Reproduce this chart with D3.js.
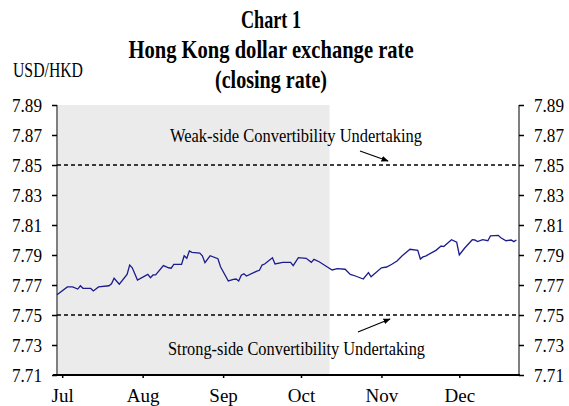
<!DOCTYPE html>
<html lang="en">
  <head>
    <meta charset="UTF-8" />
    <title>Hong Kong dollar exchange rate</title>
    <script src="https://d3js.org/d3.v7.min.js"></script>
    <style>
      body {
        margin: 0;
        background: #fff;
      }
      text {
        font-family: "Liberation Serif", "Times New Roman", serif;
        fill: #000;
      }
    </style>
  </head>
  <body>
    <svg width="569" height="406"></svg>

    <script>
      // closing rate
      var dates = [
        "06-29", "07-03", "07-05", "07-07", "07-08", "07-09", "07-12", "07-13",
        "07-15", "07-19", "07-20", "07-21", "07-23", "07-26", "07-27", "07-28",
        "07-30", "08-03", "08-04", "08-05", "08-06", "08-09", "08-11", "08-12",
        "08-13", "08-16", "08-17", "08-18", "08-19", "08-20", "08-23", "08-24",
        "08-25", "08-27", "08-30", "08-31", "09-03", "09-05", "09-06", "09-07",
        "09-08", "09-09", "09-10", "09-14", "09-15", "09-16", "09-17", "09-20",
        "09-21", "09-24", "09-27", "09-28", "09-30", "10-03", "10-05", "10-06",
        "10-08", "10-11", "10-13", "10-15", "10-18", "10-20", "10-22", "10-25",
        "10-27", "10-28", "11-01", "11-03", "11-05", "11-07", "11-09", "11-12",
        "11-15", "11-16", "11-17", "11-18", "11-22", "11-24", "11-25", "11-28",
        "11-30", "12-01", "12-03", "12-06", "12-07", "12-08", "12-10", "12-12",
        "12-13", "12-16", "12-17", "12-19", "12-21", "12-22", "12-23"
      ];
      var rates = [
        7.7635, 7.7687, 7.7687, 7.7673, 7.7695, 7.7678, 7.7677, 7.766,
        7.7687, 7.7695, 7.7708, 7.7745, 7.7705, 7.7771, 7.7833, 7.7815,
        7.7733, 7.7771, 7.7749, 7.7767, 7.7767, 7.7829, 7.7815, 7.7812,
        7.7838, 7.7838, 7.7895, 7.7878, 7.7927, 7.7918, 7.7913, 7.7895,
        7.7849, 7.7895, 7.7875, 7.7822, 7.7727, 7.7738, 7.774, 7.7727,
        7.7765, 7.7775, 7.776, 7.7793, 7.7798, 7.7833, 7.784, 7.7882,
        7.784, 7.7851, 7.7851, 7.7829, 7.7882, 7.7878, 7.7851, 7.7871,
        7.7855, 7.7822, 7.78, 7.7809, 7.7805, 7.7771, 7.776, 7.774,
        7.7782, 7.7755, 7.7815, 7.782, 7.7838, 7.786, 7.7895, 7.7938,
        7.7931, 7.7873, 7.7887, 7.7893, 7.7931, 7.796, 7.7956, 7.8002,
        7.7985, 7.79, 7.7945, 7.8002, 7.8, 7.7989, 7.8002, 7.7995,
        7.8027, 7.8031, 7.8015, 7.7995, 7.8, 7.7989, 7.8
      ];
      var yTicks = [7.71, 7.73, 7.75, 7.77, 7.79, 7.81, 7.83, 7.85, 7.87, 7.89];
      var monthTicks = ["07-01", "08-01", "09-01", "10-01", "11-01", "12-01"];
      var xDomain = ["06-29", "12-24"];
      var shadeEnd = "10-12";
      var weakSide = 7.85;
      var strongSide = 7.75;
      var titleLines = ["Chart 1", "Hong Kong dollar exchange rate", "(closing rate)"];

      var parse = function (s) {
        return d3.timeParse("%Y-%m-%d")("2010-" + s);
      };

      var svg = d3.select("svg");
      var plotLeft = 57,
        plotRight = 519,
        plotTop = 105,
        plotBottom = 375;

      var x = d3.scaleTime().domain(xDomain.map(parse)).range([plotLeft, plotRight]);
      var y = d3.scaleLinear().domain([7.71, 7.89]).range([plotBottom, plotTop]);

      // shaded period
      svg
        .append("rect")
        .attr("x", x(parse(xDomain[0])))
        .attr("y", y(7.89))
        .attr("width", x(parse(shadeEnd)) - x(parse(xDomain[0])))
        .attr("height", y(7.71) - y(7.89))
        .attr("fill", "#ebebeb");

      // title
      var titleWidths = [60, 285, 112];
      svg
        .selectAll(".title")
        .data(titleLines)
        .enter()
        .append("text")
        .attr("class", "title")
        .attr("x", 271)
        .attr("y", function (d, i) {
          return 28 + i * 30;
        })
        .attr("text-anchor", "middle")
        .attr("font-weight", "bold")
        .attr("font-size", 26)
        .attr("textLength", function (d, i) {
          return titleWidths[i];
        })
        .attr("lengthAdjust", "spacingAndGlyphs")
        .text(function (d) {
          return d;
        });

      svg
        .append("text")
        .attr("x", 13)
        .attr("y", 77)
        .attr("font-size", 20)
        .attr("textLength", 70)
        .attr("lengthAdjust", "spacingAndGlyphs")
        .text("USD/HKD");

      // axes
      var yLeft = d3.axisLeft(y).tickValues(yTicks).tickFormat(d3.format(".2f")).tickSize(5).tickPadding(10);
      var yRight = d3.axisRight(y).tickValues(yTicks).tickFormat(d3.format(".2f")).tickSize(5).tickPadding(10);
      var xAxis = d3
        .axisBottom(x)
        .tickValues(monthTicks.map(parse))
        .tickFormat(d3.timeFormat("%b"))
        .tickSize(3)
        .tickPadding(11);

      var gl = svg.append("g").attr("transform", "translate(" + plotLeft + ",0)").call(yLeft);
      var gr = svg.append("g").attr("transform", "translate(" + plotRight + ",0)").call(yRight);
      var gx = svg.append("g").attr("transform", "translate(0," + plotBottom + ")").call(xAxis);

      [gl, gr, gx].forEach(function (g) {
        g.selectAll("text")
          .attr("font-family", "Liberation Serif, Times New Roman, serif")
          .attr("font-size", 19)
          .attr("fill", "#000");
        g.selectAll(".tick line").attr("stroke", "#000").attr("stroke-width", 1.5);
      });
      [gl, gr].forEach(function (g) {
        g.selectAll("text").attr("textLength", 30).attr("lengthAdjust", "spacingAndGlyphs");
      });
      gl.select(".domain").attr("stroke", "#7f7f7f").attr("stroke-width", 2).attr("d", "M0," + plotTop + "V" + plotBottom);
      gr.select(".domain").attr("stroke", "#7f7f7f").attr("stroke-width", 2).attr("d", "M0," + plotTop + "V" + plotBottom);
      gx.select(".domain")
        .attr("stroke", "#000")
        .attr("stroke-width", 2)
        .attr("d", "M" + (plotLeft - 4) + ",0H" + (plotRight + 1));

      // undertaking lines
      svg
        .selectAll(".cu")
        .data([weakSide, strongSide])
        .enter()
        .append("line")
        .attr("class", "cu")
        .attr("x1", plotLeft)
        .attr("x2", plotRight)
        .attr("y1", function (d) {
          return y(d);
        })
        .attr("y2", function (d) {
          return y(d);
        })
        .attr("stroke", "#000")
        .attr("stroke-width", 1.6)
        .attr("stroke-dasharray", "4,3");

      // rate line
      var line = d3
        .line()
        .x(function (d, i) {
          return x(parse(dates[i]));
        })
        .y(function (d) {
          return y(d);
        });

      svg
        .append("path")
        .datum(rates)
        .attr("d", line)
        .attr("fill", "none")
        .attr("stroke", "#1c1c8f")
        .attr("stroke-width", 1.3);

      // annotations
      svg
        .append("defs")
        .append("marker")
        .attr("id", "arrow")
        .attr("viewBox", "0 0 10 10")
        .attr("refX", 9)
        .attr("refY", 5)
        .attr("markerWidth", 6)
        .attr("markerHeight", 6)
        .attr("orient", "auto")
        .append("path")
        .attr("d", "M0,1L10,5L0,9Z")
        .attr("fill", "#000");

      svg
        .append("text")
        .attr("x", 170)
        .attr("y", 142)
        .attr("font-size", 18)
        .attr("textLength", 252)
        .attr("lengthAdjust", "spacingAndGlyphs")
        .text("Weak-side  Convertibility  Undertaking");

      svg
        .append("text")
        .attr("x", 168)
        .attr("y", 355)
        .attr("font-size", 18)
        .attr("textLength", 257)
        .attr("lengthAdjust", "spacingAndGlyphs")
        .text("Strong-side  Convertibility  Undertaking");

      svg
        .append("line")
        .attr("x1", 360)
        .attr("y1", 151)
        .attr("x2", 388)
        .attr("y2", 161)
        .attr("stroke", "#000")
        .attr("stroke-width", 1.2)
        .attr("marker-end", "url(#arrow)");

      svg
        .append("line")
        .attr("x1", 358)
        .attr("y1", 332)
        .attr("x2", 390)
        .attr("y2", 319)
        .attr("stroke", "#000")
        .attr("stroke-width", 1.2)
        .attr("marker-end", "url(#arrow)");
    </script>
  </body>
</html>
